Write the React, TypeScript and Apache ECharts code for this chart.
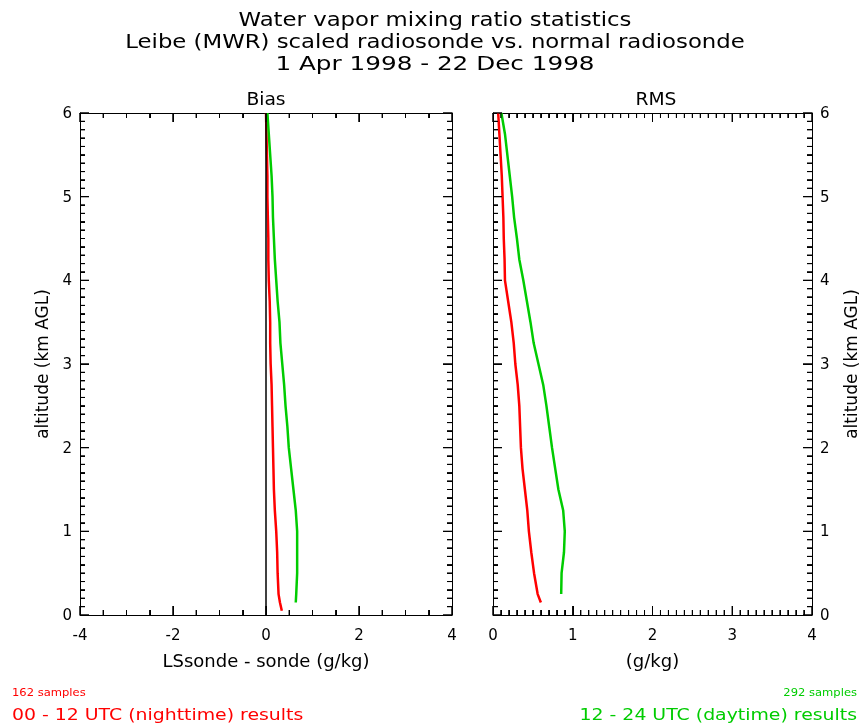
import React, { useEffect, useRef } from "react";
import * as echarts from "echarts";

const altitudes = [0.05, 0.15, 0.25, 0.5, 0.75, 1.0, 1.25, 1.5, 1.75, 2.0, 2.25, 2.5, 2.75, 3.0, 3.25, 3.5, 3.75, 4.0, 4.25, 4.5, 4.75, 5.0, 5.25, 5.5, 5.75, 6.0];
const biasNight = [0.34, 0.30, 0.27, 0.25, 0.24, 0.22, 0.19, 0.17, 0.16, 0.15, 0.14, 0.13, 0.12, 0.10, 0.09, 0.09, 0.08, 0.06, 0.05, 0.05, 0.04, 0.03, 0.03, 0.02, 0.01, 0.0];
const biasDay = [null, 0.64, 0.65, 0.67, 0.67, 0.67, 0.64, 0.59, 0.54, 0.49, 0.46, 0.42, 0.39, 0.35, 0.31, 0.29, 0.25, 0.22, 0.19, 0.17, 0.15, 0.14, 0.12, 0.09, 0.06, 0.03];
const rmsNight = [null, 0.6, 0.56, 0.515, 0.48, 0.45, 0.43, 0.40, 0.37, 0.35, 0.34, 0.33, 0.31, 0.28, 0.26, 0.23, 0.19, 0.15, 0.145, 0.135, 0.13, 0.12, 0.11, 0.095, 0.08, 0.065];
const rmsDay = [null, null, 0.855, 0.86, 0.89, 0.90, 0.88, 0.82, 0.78, 0.74, 0.705, 0.67, 0.63, 0.57, 0.51, 0.47, 0.425, 0.38, 0.33, 0.30, 0.265, 0.24, 0.21, 0.18, 0.15, 0.105];

const titleLines = [
  "Water vapor mixing ratio statistics",
  "Leibe (MWR) scaled radiosonde vs. normal radiosonde",
  "1 Apr 1998 - 22 Dec 1998",
];
const panelTitles = ["Bias", "RMS"];
const xNames = ["LSsonde - sonde (g/kg)", "(g/kg)"];
const yName = "altitude (km AGL)";
const nightSamples = "162 samples";
const daySamples = "292 samples";
const nightLabel = "00 - 12 UTC (nighttime) results";
const dayLabel = "12 - 24 UTC (daytime) results";

const RED = "#ff0000";
const GREEN = "#00cc00";
const FONT = "DejaVu Sans";

const xRanges = [
  { min: -4, max: 4, interval: 2, minor: 4, minorStep: 0.5 },
  { min: 0, max: 4, interval: 1, minor: 10, minorStep: 0.1 },
];
const yRange = { min: 0, max: 6, interval: 1, minor: 10, minorStep: 0.1 };

function pairs(vals: (number | null)[]) {
  const out: [number, number][] = [];
  vals.forEach((v, i) => {
    if (v !== null) out.push([v, altitudes[i]]);
  });
  return out;
}

function isMultiple(v: number, step: number) {
  const q = v / step;
  return Math.abs(q - Math.round(q)) < 1e-6;
}

// tick data: [x, y, kind] kind 0 = x minor, 1 = x major, 2 = y minor, 3 = y major
function tickData(g: number) {
  const r = xRanges[g];
  const out: number[][] = [];
  const nx = Math.round((r.max - r.min) / r.minorStep);
  for (let i = 0; i <= nx; i++) {
    const v = r.min + i * r.minorStep;
    out.push([v, yRange.min, isMultiple(v, r.interval) ? 1 : 0]);
  }
  const ny = Math.round((yRange.max - yRange.min) / yRange.minorStep);
  for (let i = 0; i <= ny; i++) {
    const v = yRange.min + i * yRange.minorStep;
    out.push([r.min, v, isMultiple(v, yRange.interval) ? 3 : 2]);
  }
  return out;
}

function axisBase(min: number, max: number, interval: number, minor: number) {
  return {
    type: "value",
    min,
    max,
    interval,
    splitLine: { show: false },
    axisLine: { show: true, onZero: false, lineStyle: { color: "#000", width: 1 } },
    axisTick: { show: true, inside: true, length: 9, lineStyle: { color: "#000", width: 1 } },
    minorTick: { show: true, splitNumber: minor, length: 5, lineStyle: { color: "#000", width: 1 } },
  };
}

export default function App() {
  const ref = useRef<HTMLDivElement>(null);
  useEffect(() => {
    if (!ref.current) return;
    const chart = echarts.init(ref.current, null, { renderer: "svg" });
    const grids = [
      { left: 80, top: 113, width: 372, height: 502 },
      { left: 493, top: 113, width: 326, height: 502 },
    ];
    const xAxes: any[] = [];
    const yAxes: any[] = [];
    [0, 1].forEach((g) => {
      const r = xRanges[g];
      xAxes.push({
        ...axisBase(r.min, r.max, r.interval, r.minor),
        gridIndex: g,
        position: "bottom",
        axisLabel: { show: true, color: "#000", fontSize: 15, fontFamily: FONT, margin: 12 },
        name: xNames[g],
        nameLocation: "middle",
        nameGap: 36,
        nameTextStyle: { color: "#000", fontSize: 18, fontFamily: FONT },
      });
      xAxes.push({
        ...axisBase(r.min, r.max, r.interval, r.minor),
        gridIndex: g,
        position: "top",
        axisLabel: { show: false },
      });
      const labeledSide = g === 0 ? "left" : "right";
      ["left", "right"].forEach((pos) => {
        const labeled = pos === labeledSide;
        const ax: any = {
          ...axisBase(yRange.min, yRange.max, yRange.interval, yRange.minor),
          gridIndex: g,
          position: pos,
          axisLabel: labeled
            ? { show: true, color: "#000", fontSize: 15, fontFamily: FONT, margin: 8 }
            : { show: false },
        };
        if (labeled) {
          ax.name = yName;
          ax.nameLocation = "middle";
          ax.nameRotate = 90;
          ax.nameGap = 30;
          ax.nameTextStyle = { color: "#000", fontSize: 17, fontFamily: FONT };
        }
        yAxes.push(ax);
      });
    });

    const lineSeries = (data: [number, number][], color: string, xi: number, yi: number, extra: any = {}) => ({
      type: "line",
      data,
      xAxisIndex: xi,
      yAxisIndex: yi,
      showSymbol: false,
      symbol: "none",
      lineStyle: { color, width: 2.5 },
      ...extra,
    });

    const tickSeries = (g: number) => {
      const r = xRanges[g];
      return {
        type: "custom",
        xAxisIndex: g * 2,
        yAxisIndex: g * 2,
        data: tickData(g),
        renderItem: (params: any, api: any) => {
          const kind = api.value(2);
          const x = api.value(0);
          const y = api.value(1);
          const st = { stroke: "#000", lineWidth: 1 };
          if (kind <= 1) {
            const len = kind === 1 ? 9 : 5;
            const b = api.coord([x, yRange.min]);
            const t = api.coord([x, yRange.max]);
            return {
              type: "group",
              children: [
                { type: "line", shape: { x1: b[0], y1: b[1], x2: b[0], y2: b[1] - len }, style: st },
                { type: "line", shape: { x1: t[0], y1: t[1], x2: t[0], y2: t[1] + len }, style: st },
              ],
            };
          }
          const len = kind === 3 ? 9 : 5;
          const l = api.coord([r.min, y]);
          const rr = api.coord([r.max, y]);
          return {
            type: "group",
            children: [
              { type: "line", shape: { x1: l[0], y1: l[1], x2: l[0] + len, y2: l[1] }, style: st },
              { type: "line", shape: { x1: rr[0], y1: rr[1], x2: rr[0] - len, y2: rr[1] }, style: st },
            ],
          };
        },
      };
    };

    const txt = (text: string, x: number, y: number, size: number, color: string, align: string, sx = 1) => ({
      type: "text",
      x,
      y,
      scaleX: sx,
      style: { text, fill: color, font: `${size}px '${FONT}'`, textAlign: align, textVerticalAlign: "middle" },
    });

    const texts: any[] = [];
    titleLines.forEach((t, i) => {
      texts.push(txt(t, 435, 20 + i * 22, 19, "#000", "center", i === 2 ? 1.3 : 1.2));
    });
    texts.push(txt(panelTitles[0], 266, 99, 17, "#000", "center", 1.1));
    texts.push(txt(panelTitles[1], 656, 99, 17, "#000", "center", 1.1));
    texts.push(txt(nightSamples, 12, 693, 11, RED, "left", 1.05));
    texts.push(txt(nightLabel, 12, 715, 16, RED, "left", 1.18));
    texts.push(txt(daySamples, 857, 693, 11, GREEN, "right", 1.05));
    texts.push(txt(dayLabel, 857, 715, 16, GREEN, "right", 1.18));

    chart.setOption({
      animation: false,
      grid: grids,
      xAxis: xAxes,
      yAxis: yAxes,
      series: [
        tickSeries(0),
        tickSeries(1),
        lineSeries(pairs(biasNight), RED, 0, 0, {
          markLine: {
            silent: true,
            symbol: "none",
            label: { show: false },
            lineStyle: { color: "#000", width: 1.5, type: "solid" },
            data: [{ xAxis: 0 }],
          },
        }),
        lineSeries(pairs(biasDay), GREEN, 0, 0),
        lineSeries(pairs(rmsNight), RED, 2, 2),
        lineSeries(pairs(rmsDay), GREEN, 2, 2),
      ],
      graphic: texts,
    });

    // extra tick marks as graphic lines positioned through the grids' scales
    try {
      const tickLines: any[] = [];
      [0, 1].forEach((g) => {
        const r = xRanges[g];
        tickData(g).forEach((d) => {
          const kind = d[2];
          const st = { stroke: "#000", lineWidth: 1 };
          if (kind <= 1) {
            const len = kind === 1 ? 9 : 5;
            const b = chart.convertToPixel({ gridIndex: g } as any, [d[0], yRange.min]) as number[];
            const t = chart.convertToPixel({ gridIndex: g } as any, [d[0], yRange.max]) as number[];
            if (!b || !t) return;
            tickLines.push({ type: "line", z: 50, shape: { x1: b[0], y1: b[1], x2: b[0], y2: b[1] - len }, style: st });
            tickLines.push({ type: "line", z: 50, shape: { x1: t[0], y1: t[1], x2: t[0], y2: t[1] + len }, style: st });
          } else {
            const len = kind === 3 ? 9 : 5;
            const l = chart.convertToPixel({ gridIndex: g } as any, [r.min, d[1]]) as number[];
            const rr = chart.convertToPixel({ gridIndex: g } as any, [r.max, d[1]]) as number[];
            if (!l || !rr) return;
            tickLines.push({ type: "line", z: 50, shape: { x1: l[0], y1: l[1], x2: l[0] + len, y2: l[1] }, style: st });
            tickLines.push({ type: "line", z: 50, shape: { x1: rr[0], y1: rr[1], x2: rr[0] - len, y2: rr[1] }, style: st });
          }
        });
      });
      chart.setOption({ graphic: [...texts, ...tickLines] }, { replaceMerge: ["graphic"] } as any);
    } catch (e) {
      // keep chart as is
    }
    return () => chart.dispose();
  }, []);
  return (
    <div
      ref={ref}
      style={{ position: "fixed", left: 0, top: 0, width: 860, height: 727 }}
    />
  );
}
